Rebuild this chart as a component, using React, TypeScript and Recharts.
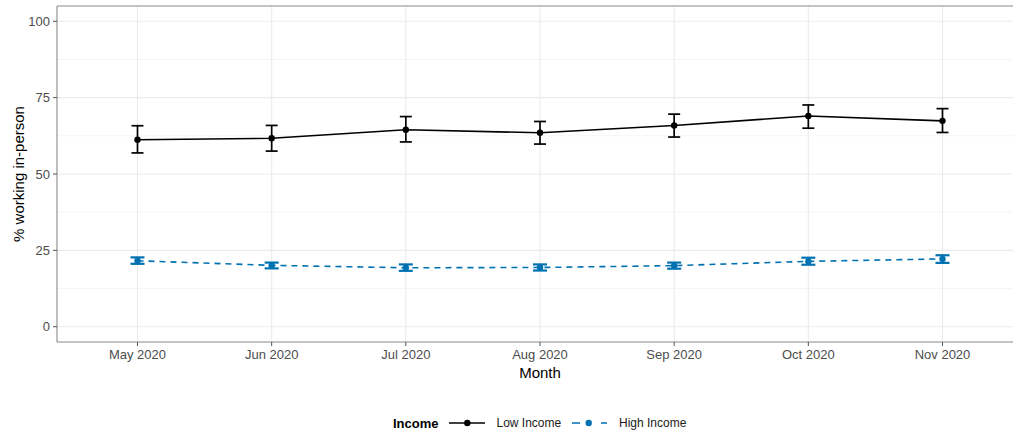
import React from 'react';
import { LineChart, Line, XAxis, YAxis, CartesianGrid, ErrorBar, ReferenceLine, Legend, Label } from 'recharts';

const months = ['May 2020', 'Jun 2020', 'Jul 2020', 'Aug 2020', 'Sep 2020', 'Oct 2020', 'Nov 2020'];
const lowMean = [61.2, 61.7, 64.5, 63.5, 65.9, 69.0, 67.4];
const lowLower = [56.9, 57.5, 60.5, 59.8, 62.1, 65.0, 63.6];
const lowUpper = [65.8, 65.9, 68.8, 67.2, 69.6, 72.6, 71.4];
const highMean = [21.6, 20.1, 19.3, 19.4, 20.0, 21.4, 22.2];
const highLower = [20.6, 19.1, 18.3, 18.4, 19.0, 20.3, 20.9];
const highUpper = [22.7, 21.0, 20.4, 20.4, 21.0, 22.6, 23.4];
const yTicks = [0, 25, 50, 75, 100];
const yMinor = [12.5, 37.5, 62.5, 87.5];

const data = months.map((m, i) => ({
  x: i,
  low: lowMean[i],
  lowErr: [lowMean[i] - lowLower[i], lowUpper[i] - lowMean[i]],
  high: highMean[i],
  highErr: [highMean[i] - highLower[i], highUpper[i] - highMean[i]],
}));

const FONT = '"Liberation Sans", Arial, sans-serif';
const BLUE = '#0072B2';
const BORDER = '#8a8a8a';

const LegendContent = () => (
  <div style={{ position: 'relative', height: 0 }}>
    <svg width={1013} height={30} style={{ position: 'absolute', left: 0, top: 0 }}>
      <text x={393} y={19.5} fontFamily={FONT} fontSize={13} fontWeight="bold" fill="#000">Income</text>
      <line x1={449} x2={485} y1={15} y2={15} stroke="#000" strokeWidth={1.6} />
      <circle cx={467.3} cy={15} r={3.2} fill="#000" />
      <text x={496.5} y={19.3} fontFamily={FONT} fontSize={12} fill="#1a1a1a">Low Income</text>
      <line x1={572} x2={607} y1={15} y2={15} stroke={BLUE} strokeWidth={1.6} strokeDasharray="8 21" />
      <circle cx={588.7} cy={15} r={3.2} fill={BLUE} />
      <text x={619} y={19.3} fontFamily={FONT} fontSize={12} fill="#1a1a1a">High Income</text>
    </svg>
  </div>
);

export default function App() {
  return (
    <div style={{ position: 'absolute', left: 0, top: 0, width: 1013, height: 435, overflow: 'hidden', background: '#fff' }}>
      <LineChart width={1024} height={435} data={data} margin={{ top: 6, right: 1, left: 0, bottom: 53 }}>
        <CartesianGrid stroke="#EBEBEB" strokeWidth={1.1} horizontalValues={yTicks} verticalValues={[0, 1, 2, 3, 4, 5, 6]} />
        {yMinor.map((v) => (
          <ReferenceLine key={v} y={v} stroke="#F3F3F3" strokeWidth={0.8} />
        ))}
        <ReferenceLine y={105} stroke={BORDER} strokeWidth={1.1} />
        <XAxis
          type="number"
          dataKey="x"
          domain={[-0.6, 6.6]}
          ticks={[0, 1, 2, 3, 4, 5, 6]}
          tickFormatter={(v) => months[v]}
          allowDataOverflow
          height={40}
          axisLine={{ stroke: BORDER, strokeWidth: 1.1 }}
          tickLine={{ stroke: '#555' }}
          tickSize={4}
          tickMargin={4}
          tick={{ fill: '#4D4D4D', fontSize: 13, fontFamily: FONT }}
        >
          <Label value="Month" position="insideBottom" offset={4} style={{ fill: '#000', fontSize: 15, fontFamily: FONT }} />
        </XAxis>
        <YAxis
          type="number"
          domain={[-5, 105]}
          ticks={yTicks}
          allowDataOverflow
          width={57}
          axisLine={{ stroke: BORDER, strokeWidth: 1.1 }}
          tickLine={{ stroke: '#555' }}
          tickSize={4}
          tickMargin={3}
          tick={{ fill: '#4D4D4D', fontSize: 13, fontFamily: FONT }}
        >
          <Label
            content={({ viewBox }: any) => (
              <text
                transform={`translate(18, ${viewBox.y + viewBox.height / 2}) rotate(-90)`}
                textAnchor="middle"
                dominantBaseline="central"
                fontFamily={FONT}
                fontSize={15}
                fill="#000"
              >
                % working in-person
              </text>
            )}
          />
        </YAxis>
        <Legend verticalAlign="bottom" content={<LegendContent />} wrapperStyle={{ left: 0, top: 408, width: 1013, height: 0 }} />
        <Line
          dataKey="low"
          name="Low Income"
          stroke="#000"
          strokeWidth={1.6}
          dot={{ r: 3.2, fill: '#000', stroke: '#000', strokeWidth: 0 }}
          activeDot={false}
          isAnimationActive={false}
        >
          <ErrorBar dataKey="lowErr" direction="y" width={6} stroke="#000" strokeWidth={1.7} />
        </Line>
        <Line
          dataKey="high"
          name="High Income"
          stroke={BLUE}
          strokeWidth={1.6}
          strokeDasharray="6 5"
          dot={{ r: 3.2, fill: BLUE, stroke: BLUE, strokeWidth: 0 }}
          activeDot={false}
          isAnimationActive={false}
        >
          <ErrorBar dataKey="highErr" direction="y" width={7} stroke={BLUE} strokeWidth={2.2} />
        </Line>
      </LineChart>
    </div>
  );
}
